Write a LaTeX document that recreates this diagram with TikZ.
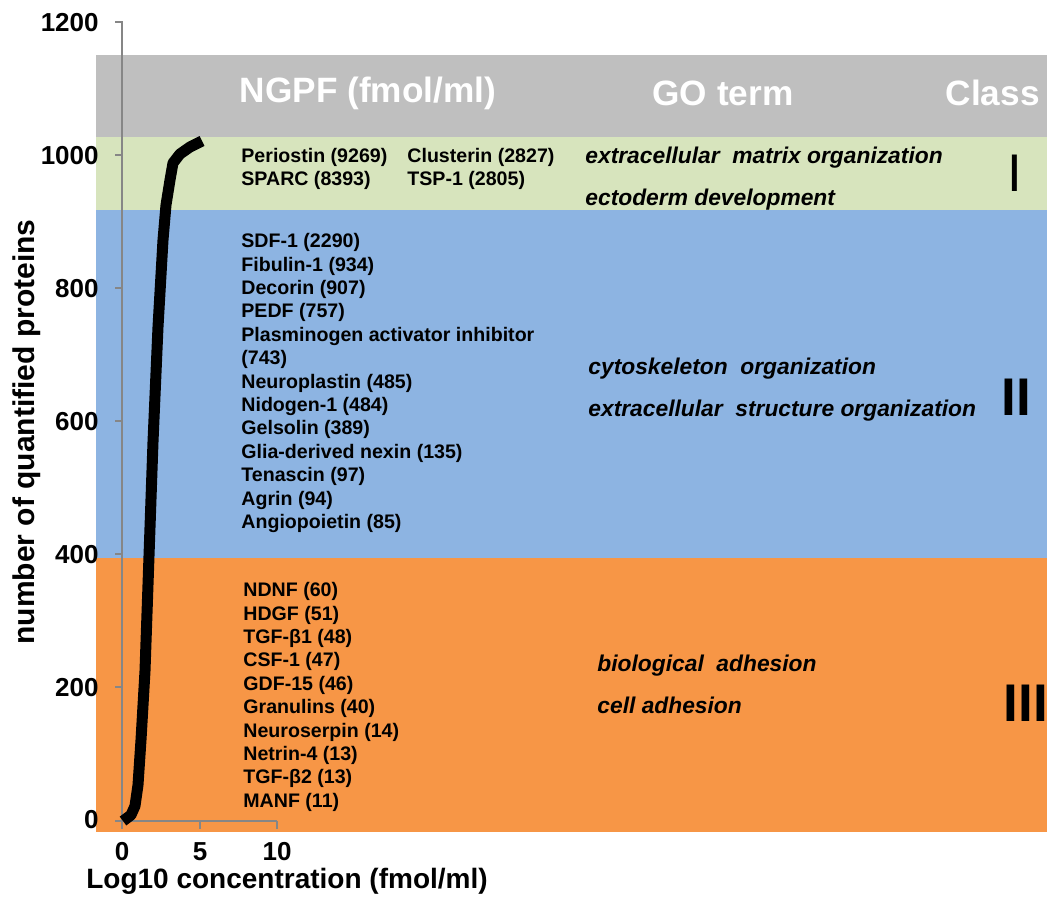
\documentclass[tikz,border=0pt]{standalone}
\usepackage{fontspec}
\setmainfont{Liberation Sans}
\usetikzlibrary{positioning}
\definecolor{headgray}{RGB}{191,191,191}
\definecolor{classgreen}{RGB}{215,228,189}
\definecolor{classblue}{RGB}{141,180,226}
\definecolor{classorange}{RGB}{247,150,70}
\definecolor{axisgray}{RGB}{134,134,134}

\begin{document}
\begin{tikzpicture}[
        x=0.5pt, y=-0.5pt,
        axisline/.style={axisgray, line width=0.6pt},
        ticklabel/.style={font=\fontsize{13}{15}\selectfont\bfseries, inner sep=0pt},
        axistitle/.style={font=\fontsize{14}{16}\selectfont\bfseries, inner sep=0pt},
        header/.style={font=\fontsize{17.6}{20}\selectfont\bfseries, text=white, inner sep=0pt},
        protlist/.style={anchor=north west, align=left, inner sep=0pt,
                    font=\fontsize{9.8}{11.7}\selectfont\bfseries},
        goterm/.style={anchor=north west, align=left, inner sep=0pt,
                    font=\fontsize{11.4}{21}\selectfont\bfseries\itshape},
        classlabel/.style={font=\fontsize{26.5}{30}\selectfont, inner sep=0pt},
        curve/.style={line width=5.5pt, black, line join=round}
    ]
        \useasboundingbox (0,0) rectangle (1047,897);

        % Class bands
        \fill[headgray] (96,55) rectangle (1047,137);
        \fill[classgreen] (96,137) rectangle (1047,210);
        \fill[classblue] (96,210) rectangle (1047,558);
        \fill[classorange] (96,558) rectangle (1047,832);

        % Axes
        \draw[axisline] (115,22) -- (122,22) -- (122,829);
        \draw[axisline] (115,821) -- (277,821);
        \draw[axisline] (115,155) -- (122,155);
        \draw[axisline] (115,288) -- (122,288);
        \draw[axisline] (115,421) -- (122,421);
        \draw[axisline] (115,554) -- (122,554);
        \draw[axisline] (115,687) -- (122,687);
        \draw[axisline] (200,821) -- (200,829);
        \draw[axisline] (277,821) -- (277,829);

        % Tick labels
        \node[ticklabel, anchor=east] (y1200) at (99,23) {1200};
        \node[ticklabel, anchor=east] (y1000) at (99,156) {1000};
        \node[ticklabel, anchor=east] (y800) at (99,289) {800};
        \node[ticklabel, anchor=east] (y600) at (99,422) {600};
        \node[ticklabel, anchor=east] (y400) at (99,555) {400};
        \node[ticklabel, anchor=east] (y200) at (99,688) {200};
        \node[ticklabel, anchor=east] (y0) at (99,820) {0};
        \node[ticklabel] (x0) at (122,852) {0};
        \node[ticklabel] (x5) at (200,852) {5};
        \node[ticklabel] (x10) at (277,852) {10};

        % Axis titles
        \node[axistitle] (xtitle) at (287,881) {Log10 concentration (fmol/ml)};
        \node[axistitle, font=\fontsize{15}{17}\selectfont\bfseries, rotate=90] (ytitle) at (27,432) {number of quantified proteins};

        % Cumulative curve
        \draw[curve] (123,821) -- (131,815) -- (135,806) -- (138,785) -- (141,740) -- (145,671)
            -- (149,556) -- (153,442) -- (158,327) -- (163,240) -- (166,205) -- (170,180)
            -- (173,163) -- (180,154) -- (190,147) -- (202,141);

        % Header
        \node[header] (ngpf) at (368,93) {NGPF (fmol/ml)};
        \node[header] (goterm) at (723,93) {GO term};
        \node[header, anchor=east] (class) at (1040,93) {Class};

        % Class I
        \node[protlist] (listIa) at (241,148) {Periostin (9269)\\SPARC (8393)};
        \node[protlist] (listIb) at (407,148) {Clusterin (2827)\\TSP-1 (2805)};
        \node[goterm] (goI) at (585,147) {extracellular\ \ matrix organization\\ectoderm development};
        \node[classlabel] (classI) at (1015,173) {I};

        % Class II
        \node[protlist] (listII) at (241,233) {SDF-1 (2290)\\Fibulin-1 (934)\\Decorin (907)\\PEDF (757)\\
            Plasminogen activator inhibitor\\(743)\\Neuroplastin (485)\\Nidogen-1 (484)\\Gelsolin (389)\\
            Glia-derived nexin (135)\\Tenascin (97)\\Agrin (94)\\Angiopoietin (85)};
        \node[goterm] (goII) at (588,358) {cytoskeleton\ \ organization\\extracellular\ \ structure organization};
        \node[classlabel, font=\fontsize{26.5}{30}\selectfont\bfseries] (classII) at (1016,397) {II};

        % Class III
        \node[protlist] (listIII) at (243,582) {NDNF\ (60)\\HDGF\ (51)\\TGF-β1 (48)\\CSF-1 (47)\\GDF-15 (46)\\
            Granulins (40)\\Neuroserpin (14)\\Netrin-4 (13)\\TGF-β2 (13)\\MANF (11)};
        \node[goterm] (goIII) at (597,655) {biological\ \ adhesion\\cell adhesion};
        \node[classlabel, font=\fontsize{26.5}{30}\selectfont\bfseries] (classIII) at (1026,703) {III};
\end{tikzpicture}
\end{document}
